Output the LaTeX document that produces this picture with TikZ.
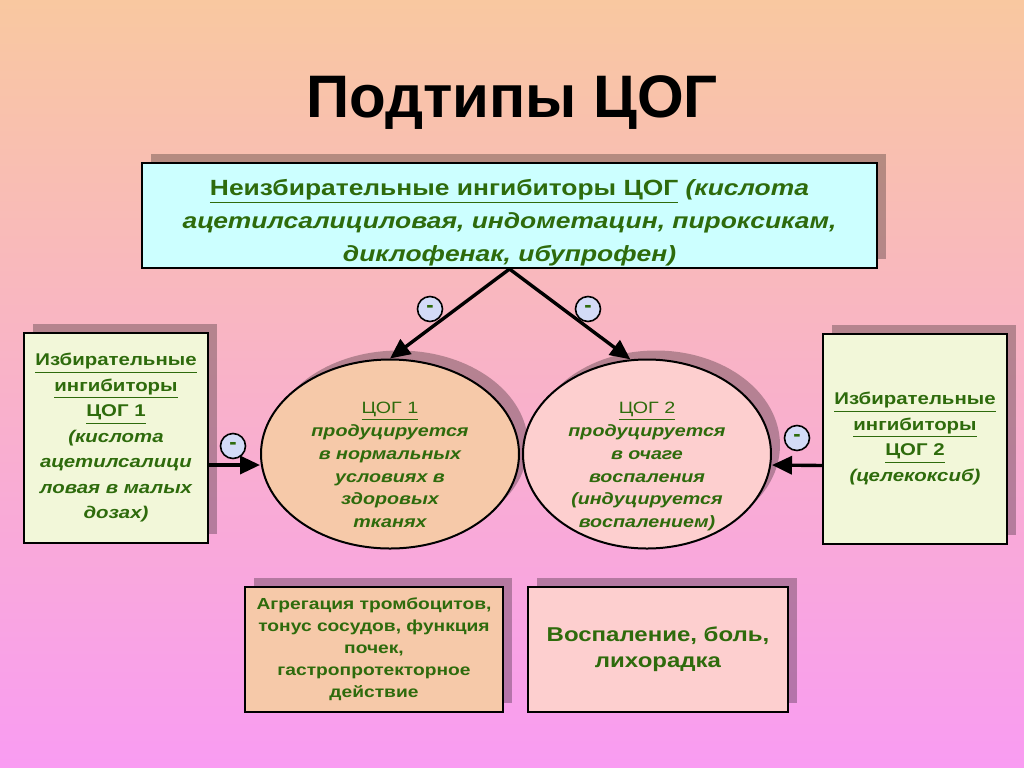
\documentclass[tikz,border=0pt]{standalone}
\usepackage{fontspec}
\setmainfont{Liberation Sans}
\newfontfamily\slidefont[FakeStretch=1.2]{Liberation Sans}
\usetikzlibrary{positioning, arrows.meta, shapes.geometric, shadows}
\definecolor{COGgreen}{HTML}{2E6B0C}
\definecolor{COGcyan}{HTML}{CCFFFF}
\definecolor{COGcream}{HTML}{F2F7D9}
\definecolor{COGpeach}{HTML}{F6C9A9}
\definecolor{COGpink}{HTML}{FDCFCF}
\definecolor{COGminus}{HTML}{D3DBF7}
\definecolor{BGtop}{HTML}{F9C8A0}
\definecolor{BGmid}{HTML}{F9B4C8}
\definecolor{BGbot}{HTML}{F99CF2}
% ellipse text, kept from growing the shape
\newcommand{\elltext}[1]{\raisebox{-8pt}[0pt][0pt]{%
  \begin{tabular}{@{}c@{}}#1\end{tabular}}}

\begin{document}
\begin{tikzpicture}[
  x=0.5pt, y=-0.5pt,
  shade/.style={drop shadow={shadow xshift=4.5pt, shadow yshift=4.5pt,
                             fill=black, opacity=0.27}},
  panel/.style={draw=black, line width=1pt, shade, align=center,
                inner sep=0pt, text=COGgreen},
  cogell/.style={ellipse, draw=black, line width=1pt, shade, align=center,
                 inner sep=0pt, text=COGgreen, minimum height=94.5pt,
                 font=\slidefont\bfseries\itshape\fontsize{8.2}{11.4}\selectfont},
  minus/.style={circle, draw=black, line width=0.8pt, fill=COGminus,
                minimum size=12.5pt, inner sep=0pt, text=COGgreen,
                font=\bfseries\fontsize{11}{11}\selectfont},
  arr/.style={-{Triangle[length=10pt, width=9pt]}, line width=1.7pt, black},
]
% background
\fill[top color=BGtop, middle color=BGmid, bottom color=BGbot]
  (0,0) rectangle (1024,767);

\node[font=\bfseries\fontsize{30}{36}\selectfont] (title) at (512,103)
  {Подтипы ЦОГ};

\node[panel, fill=COGcyan, minimum width=367.5pt, minimum height=52.5pt,
      font=\slidefont\bfseries\itshape\fontsize{11}{16.5}\selectfont]
  (nonsel) at (509.5,215.5)
  {\rule{0pt}{15pt}{\upshape\underline{Неизбирательные ингибиторы ЦОГ}} (кислота\\
   ацетилсалициловая, индометацин, пироксикам,\\
   диклофенак, ибупрофен)};

\node[panel, fill=COGcream, minimum width=92pt, minimum height=105pt,
      font=\slidefont\bfseries\itshape\fontsize{8.5}{12.75}\selectfont]
  (sel1) at (116,438)
  {{\upshape\underline{Избирательные}}\\
   {\upshape\underline{ингибиторы}}\\
   {\upshape\underline{ЦОГ 1}}\\
   (кислота\\ацетилсалици\\ловая в малых\\дозах)};

\node[panel, fill=COGcream, minimum width=92pt, minimum height=105pt,
      font=\slidefont\bfseries\itshape\fontsize{8.5}{12.75}\selectfont]
  (sel2) at (915,438.5)
  {{\upshape\underline{Избирательные}}\\
   {\upshape\underline{ингибиторы}}\\
   {\upshape\underline{ЦОГ 2}}\\
   (целекоксиб)};

\node[cogell, fill=COGpeach, minimum width=129pt] (cog1) at (390,454)
  {\elltext{{\mdseries\upshape\underline{ЦОГ 1}}\\
   продуцируется\\в нормальных\\условиях в\\здоровых\\тканях}};
\node[cogell, fill=COGpink, minimum width=124pt] (cog2) at (647,454)
  {\elltext{{\mdseries\upshape\underline{ЦОГ 2}}\\
   продуцируется\\в очаге\\воспаления\\(индуцируется\\воспалением)}};

\node[panel, fill=COGpeach, minimum width=129pt, minimum height=62.5pt,
      font=\slidefont\bfseries\fontsize{8}{11}\selectfont]
  (eff1) at (374,649.5)
  {Агрегация тромбоцитов,\\тонус сосудов, функция\\почек,\\
   гастропротекторное\\действие};
\node[panel, fill=COGpink, minimum width=130pt, minimum height=62.5pt,
      font=\slidefont\bfseries\fontsize{10}{13}\selectfont]
  (eff2) at (658,649.5)
  {Воспаление, боль,\\лихорадка};

% arrows
\draw[arr] (nonsel.south) -- (cog1.north);
\draw[arr] (nonsel.south) -- (cog2.100);
\draw[arr] ([yshift=-13.5pt]sel1.east) -- ([yshift=-5.5pt]cog1.west);
\draw[arr] ([yshift=-13.5pt]sel2.west) -- ([yshift=-5.5pt]cog2.east);

\node[minus] (m1) at (430,309) {-};
\node[minus] (m2) at (588,309) {-};
\node[minus] (m3) at (233,446) {-};
\node[minus] (m4) at (797,438) {-};
\end{tikzpicture}
\end{document}
